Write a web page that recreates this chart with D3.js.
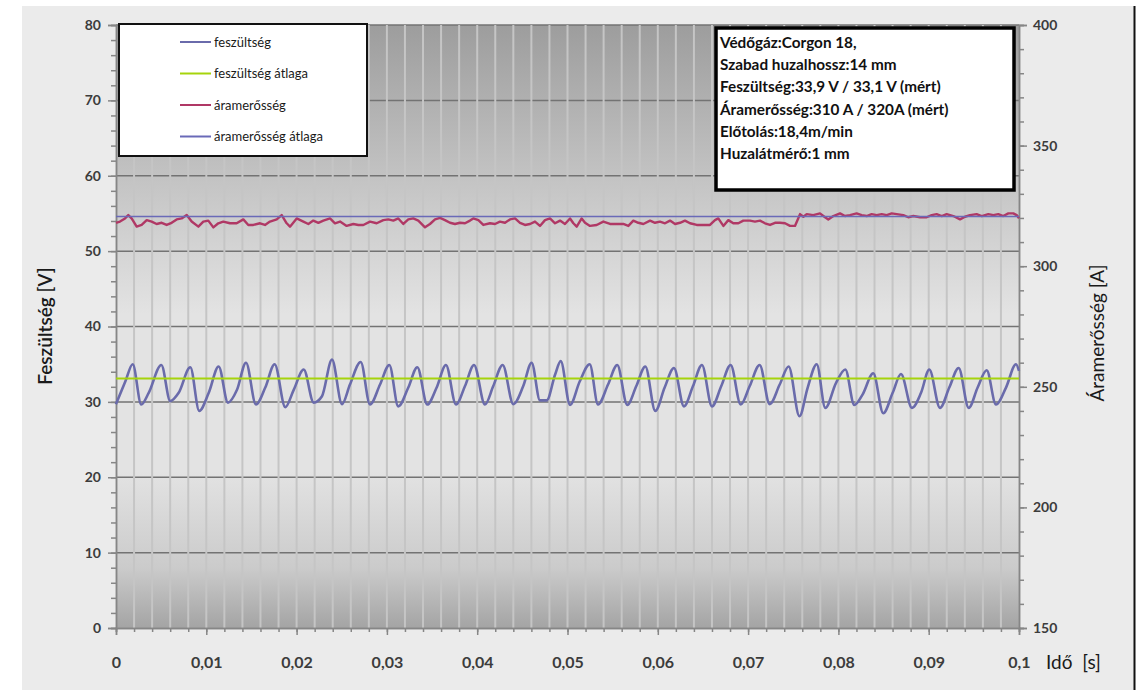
<!DOCTYPE html>
<html>
<head>
<meta charset="utf-8">
<script src="https://cdn.jsdelivr.net/npm/d3@7"></script>
<style>
	body { margin: 0; background: #ffffff; }
	svg text { font-family: Lato, 'Open Sans', sans-serif; }
</style>
</head>
<body>
<svg id="chart" width="1143" height="691"></svg>
<script>
// axes
let xTicks = [0, 0.01, 0.02, 0.03, 0.04, 0.05, 0.06, 0.07, 0.08, 0.09, 0.1];
let xTickLabels = ['0', '0,01', '0,02', '0,03', '0,04', '0,05', '0,06', '0,07', '0,08', '0,09', '0,1'];
let yVoltTicks = [0, 10, 20, 30, 40, 50, 60, 70, 80];
let yAmpTicks = [150, 200, 250, 300, 350, 400];

// feszültség (time in ms, value in V)
let voltTime = [
	0, 1.03, 1.85,  2.80, 3.62, 5.02,  6.01, 6.94, 8.23,  9.22, 10.27, 11.37,
	12.40, 13.40, 14.40,  15.50, 16.53, 17.57,  18.75, 19.68, 20.79,  21.89, 22.81, 23.92,
	25.03, 25.91, 27.10,  28.13, 29.24, 30.27,  31.26, 32.37, 33.37,  34.47, 35.51, 36.54,
	37.65, 38.65, 39.65,  40.86, 41.78, 42.82,  44.00, 45.10, 46.03,  46.95, 47.70, 48.62, 49.25,
	50.28, 51.35, 52.46,  53.38, 54.49, 55.51,  56.62, 57.62, 58.62,  59.72, 60.76, 61.79,
	62.90, 63.90, 64.89,  66.00, 67.03, 68.07,  69.18, 70.18, 71.28,  72.39, 73.50, 74.49,
	75.69, 76.60, 77.60,  78.55, 79.73, 80.77,  81.76, 82.69, 83.86,  84.97, 86.01, 86.93,
	88.15, 89.15, 90.07,  91.25, 92.28, 93.32,  94.43, 95.42, 96.42,  97.45, 98.56, 99.67,  100
];
let voltValue = [
	29.7, 32.7, 35.0,  29.65, 31.2, 34.9,  30.1, 31.2, 34.6,  28.8, 31.2, 34.7,
	29.9, 31.6, 35.2,  29.65, 31.9, 35.0,  29.3, 31.6, 34.3,  29.9, 30.75, 35.6,
	29.7, 32.3, 35.3,  29.65, 32.3, 34.9,  29.4, 31.9, 34.6,  29.65, 31.9, 34.9,
	29.65, 32.1, 34.9,  29.65, 32.1, 34.9,  29.7, 32.1, 35.2,  30.2, 30.2, 33.6, 35.4,
	29.6, 32.7, 35.0,  29.65, 32.3, 34.9,  29.6, 32.1, 34.7,  28.8, 31.9, 34.5,
	29.4, 32.1, 34.9,  29.4, 32.1, 34.9,  29.65, 32.1, 34.9,  29.7, 32.3, 34.7,
	28.1, 31.9, 35.0,  29.2, 32.5, 34.3,  29.6, 31.0, 33.8,  28.5, 31.2, 33.7,
	29.2, 31.2, 34.3,  29.2, 31.9, 34.5,  29.2, 31.9, 34.2,  29.65, 31.9, 35.0,  34.1
];
let voltMean = 33.1;

// áramerősség (time in ms, value in A)
let ampTime = [
	0, 0.44, 1.00, 1.36, 1.73, 2.29, 2.84, 3.40, 3.95, 4.50,
	5.06, 5.61, 6.16, 6.72, 7.27, 7.83, 8.38, 9.12, 9.67, 10.22,
	10.78, 11.33, 11.88, 12.62, 13.36, 14.10, 14.65, 15.21, 15.95, 16.50,
	17.05, 17.80, 18.35, 18.90, 19.27, 20.01, 20.75, 21.30, 21.85, 22.41,
	22.96, 23.70, 24.25, 24.81, 25.54, 26.28, 26.84, 27.39, 28.13, 28.87,
	29.60, 30.16, 30.71, 31.26, 31.82, 32.37, 32.92, 33.48, 34.22, 34.77,
	35.33, 35.88, 36.43, 36.99, 37.54, 38.10, 38.65, 39.20, 39.57, 40.13,
	40.68, 41.42, 41.97, 42.52, 43.08, 43.63, 44.19, 44.74, 45.29, 45.85,
	46.40, 46.95, 47.51, 48.06, 48.62, 49.17, 49.72, 50.28, 50.65, 51.02,
	51.57, 51.94, 52.49, 53.23, 53.97, 54.71, 55.45, 56.18, 56.74, 57.29,
	57.84, 58.40, 59.14, 59.69, 60.24, 60.80, 61.35, 61.91, 62.46, 63.01,
	63.57, 64.31, 65.04, 65.78, 66.33, 66.70, 67.26, 67.81, 68.36, 68.92,
	69.47, 70.21, 70.76, 71.32, 71.87, 72.43, 72.98, 73.53, 74.09, 74.64,
	75.19, 75.56, 75.75, 76.12, 76.49, 77.22, 77.96, 78.52, 78.88, 79.44,
	80.18, 80.73, 81.28, 82.02, 82.58, 83.13, 83.68, 84.24, 84.79, 85.35,
	85.90, 86.45, 87.19, 87.74, 88.30, 89.04, 89.78, 90.33, 90.88, 91.44,
	91.99, 92.73, 93.47, 94.02, 94.57, 95.31, 95.87, 96.60, 97.16, 97.71,
	98.26, 98.82, 99.37, 99.74, 100
];
let ampValue = [
	318.0, 318.5, 319.8, 321.2, 319.8, 316.4, 317.1, 319.1, 318.5, 317.5,
	318.0, 317.1, 318.0, 319.4, 319.8, 321.2, 318.5, 316.4, 318.5, 318.9,
	316.1, 317.8, 318.5, 317.8, 317.8, 319.4, 317.1, 317.1, 317.8, 317.1,
	318.5, 319.4, 321.2, 317.8, 316.4, 319.8, 318.5, 317.5, 318.9, 318.0,
	318.9, 319.8, 317.8, 318.5, 316.7, 317.5, 317.1, 317.1, 318.5, 317.8,
	319.1, 319.4, 318.9, 319.8, 317.5, 319.4, 319.8, 318.9, 316.1, 317.5,
	319.4, 320.0, 319.1, 318.0, 317.5, 318.0, 317.8, 318.9, 319.8, 319.1,
	317.1, 317.8, 317.5, 318.5, 318.0, 319.4, 319.8, 318.0, 317.1, 317.5,
	318.5, 316.7, 319.1, 319.8, 317.8, 318.9, 317.5, 319.8, 317.8, 316.4,
	319.8, 318.0, 316.7, 317.1, 318.5, 317.5, 317.5, 317.5, 316.7, 318.9,
	318.0, 317.5, 318.9, 318.0, 318.5, 317.8, 318.9, 317.5, 318.0, 318.9,
	317.8, 317.1, 317.1, 317.1, 319.1, 319.8, 316.7, 319.1, 317.8, 317.8,
	318.9, 318.9, 318.5, 318.9, 317.8, 317.1, 318.0, 318.0, 317.8, 316.7,
	316.7, 319.9, 321.6, 320.5, 321.6, 321.2, 321.9, 320.3, 319.4, 320.8,
	321.9, 320.8, 321.2, 321.9, 321.2, 320.8, 321.6, 321.2, 321.6, 321.2,
	321.9, 321.6, 321.2, 320.3, 320.8, 320.3, 320.3, 321.2, 321.6, 320.8,
	321.6, 320.8, 319.4, 320.5, 321.2, 321.6, 320.8, 321.6, 321.2, 321.6,
	320.8, 321.9, 321.9, 321.2, 319.9
];
let ampMean = 320.6;

let legendLabels = ['feszültség', 'feszültség átlaga', 'áramerősség', 'áramerősség átlaga'];
let legendColors = ['#6a6bab', '#a6d40c', '#b03865', '#6a6ab8'];

let infoLines = [
	'Védőgáz:Corgon 18,',
	'Szabad huzalhossz:14 mm',
	'Feszültség:33,9 V / 33,1 V (mért)',
	'Áramerősség:310 A / 320A (mért)',
	'Előtolás:18,4m/min',
	'Huzalátmérő:1 mm'
];

let svg = d3.select('#chart');

let margin = { 'top': 25, 'right': 124, 'bottom': 63, 'left': 116 };
let width = 1143 - margin.left - margin.right;
let height = 691 - margin.top - margin.bottom;

// outer panel
svg.append('rect')
	.attr('x', 22).attr('y', 6)
	.attr('width', 1112).attr('height', 684)
	.attr('fill', '#ebebeb');
svg.append('line')
	.attr('x1', 1134.5).attr('x2', 1134.5)
	.attr('y1', 6).attr('y2', 690)
	.attr('stroke', '#111').attr('stroke-width', 2);

// plot background gradient
let grad = svg.append('defs')
	.append('linearGradient')
	.attr('id', 'plotBg')
	.attr('x1', 0).attr('y1', 0).attr('x2', 0).attr('y2', 1);
[[0, '#9d9d9d'], [0.3, '#cacaca'], [0.48, '#e3e3e3'], [0.74, '#e3e3e3'], [0.9, '#cbcbcb'], [1, '#a4a4a4']]
	.forEach(function(s) {
		grad.append('stop').attr('offset', s[0]).attr('stop-color', s[1]);
	});

let chart = svg
	.append('g')
	.attr('transform', 'translate(' + margin.left + ', ' + margin.top + ')');

let x = d3.scaleLinear().domain([0, 0.1]).range([0, width]);
let yV = d3.scaleLinear().domain([0, 80]).range([height, 0]);
let yA = d3.scaleLinear().domain([150, 400]).range([height, 0]);

chart.append('rect')
	.attr('width', width)
	.attr('height', height)
	.attr('fill', 'url(#plotBg)');

// horizontal grid
chart.append('g')
	.selectAll('line')
	.data(yVoltTicks.filter(d => d > 0))
	.enter()
	.append('line')
	.attr('x1', 0).attr('x2', width)
	.attr('y1', d => yV(d)).attr('y2', d => yV(d))
	.attr('stroke', '#737373')
	.attr('stroke-width', 1.5);

// vertical grid, every 0.002 s
chart.append('g')
	.selectAll('line')
	.data(d3.range(1, 50).map(i => i * 0.002))
	.enter()
	.append('line')
	.attr('x1', d => x(d)).attr('x2', d => x(d))
	.attr('y1', 0).attr('y2', height)
	.attr('stroke', '#c5c5c5')
	.attr('stroke-width', 2);

function styleAxis(g, fontSize) {
	g.select('.domain').attr('stroke', '#868686').attr('stroke-width', 1.5);
	g.selectAll('.tick line').attr('stroke', '#868686').attr('stroke-width', 1.5);
	g.selectAll('.tick text')
		.attr('fill', '#3c3c3c')
		.attr('font-weight', 'bold')
		.attr('font-size', fontSize);
}

// left axis
let leftMinor = chart.append('g')
	.call(d3.axisLeft(yV).tickValues(d3.range(0, 81, 2)).tickSize(5).tickFormat(''));
styleAxis(leftMinor, 13);
let leftAxis = chart.append('g')
	.call(d3.axisLeft(yV).tickValues(yVoltTicks).tickSize(8).tickPadding(7).tickFormat(d => String(d)));
styleAxis(leftAxis, 14);

// right axis
let rightMinor = chart.append('g')
	.attr('transform', 'translate(' + width + ', 0)')
	.call(d3.axisRight(yA).tickValues(d3.range(150, 401, 10)).tickSize(5).tickFormat(''));
styleAxis(rightMinor, 13);
let rightAxis = chart.append('g')
	.attr('transform', 'translate(' + width + ', 0)')
	.call(d3.axisRight(yA).tickValues(yAmpTicks).tickSize(8).tickPadding(6).tickFormat(d => String(d)));
styleAxis(rightAxis, 14);

// bottom axis
let bottomMinor = chart.append('g')
	.attr('transform', 'translate(0, ' + height + ')')
	.call(d3.axisBottom(x).tickValues(d3.range(0, 51).map(i => i * 0.002)).tickSize(4).tickFormat(''));
styleAxis(bottomMinor, 13);
let bottomAxis = chart.append('g')
	.attr('transform', 'translate(0, ' + height + ')')
	.call(d3.axisBottom(x).tickValues(xTicks).tickSize(7).tickPadding(22).tickFormat((d, i) => xTickLabels[i]));
styleAxis(bottomAxis, 16);

// series
let ampData = ampTime.map((t, i) => ({ 't': t / 1000, 'v': ampValue[i] }));
let voltData = voltTime.map((t, i) => ({ 't': t / 1000, 'v': voltValue[i] }));

chart.append('path')
	.datum(voltData)
	.attr('fill', 'none')
	.attr('stroke', legendColors[0])
	.attr('stroke-width', 2.6)
	.attr('stroke-linejoin', 'round')
	.attr('d', d3.line().x(d => x(d.t)).y(d => yV(d.v)).curve(d3.curveMonotoneX));

chart.append('line')
	.attr('x1', 0).attr('x2', width)
	.attr('y1', yV(voltMean)).attr('y2', yV(voltMean))
	.attr('stroke', legendColors[1])
	.attr('stroke-width', 2);

chart.append('path')
	.datum(ampData)
	.attr('fill', 'none')
	.attr('stroke', legendColors[2])
	.attr('stroke-width', 2.4)
	.attr('stroke-linejoin', 'round')
	.attr('d', d3.line().x(d => x(d.t)).y(d => yA(d.v)));

chart.append('line')
	.attr('x1', 0).attr('x2', width)
	.attr('y1', yA(ampMean)).attr('y2', yA(ampMean))
	.attr('stroke', legendColors[3])
	.attr('stroke-width', 1.6);

// axis titles
svg.append('text')
	.attr('transform', 'translate(52, 326) rotate(-90)')
	.attr('text-anchor', 'middle')
	.attr('font-size', 19)
	.attr('font-weight', 600)
	.attr('fill', '#1a1a1a')
	.text('Feszültség [V]');
svg.append('text')
	.attr('transform', 'translate(1104, 333) rotate(-90)')
	.attr('text-anchor', 'middle')
	.attr('font-size', 19)
	.attr('fill', '#1a1a1a')
	.text('Áramerősség [A]');
svg.append('text')
	.attr('x', 1046).attr('y', 669)
	.attr('font-size', 19)
	.attr('fill', '#1a1a1a')
	.text('Idő  [s]')
	.attr('xml:space', 'preserve');

// legend
let legend = svg.append('g');
legend.append('rect')
	.attr('x', 119).attr('y', 24)
	.attr('width', 248).attr('height', 132)
	.attr('fill', '#ffffff')
	.attr('stroke', '#111')
	.attr('stroke-width', 2);
legendLabels.forEach(function(label, i) {
	let ly = 42 + i * 31.5;
	legend.append('line')
		.attr('x1', 180).attr('x2', 211)
		.attr('y1', ly).attr('y2', ly)
		.attr('stroke', legendColors[i])
		.attr('stroke-width', 2);
	legend.append('text')
		.attr('x', 214).attr('y', ly + 4.5)
		.attr('font-size', 13)
		.attr('fill', '#1a1a1a')
		.text(label);
});

// info box
let info = svg.append('g');
info.append('rect')
	.attr('x', 716).attr('y', 28)
	.attr('width', 298).attr('height', 162)
	.attr('fill', '#ffffff')
	.attr('stroke', '#000')
	.attr('stroke-width', 3.5);
infoLines.forEach(function(line, i) {
	info.append('text')
		.attr('x', 720)
		.attr('y', 48 + i * 22.2)
		.attr('font-size', 15.3)
		.attr('font-weight', 'bold')
		.attr('fill', '#111')
		.text(line);
});
</script>
</body>
</html>
